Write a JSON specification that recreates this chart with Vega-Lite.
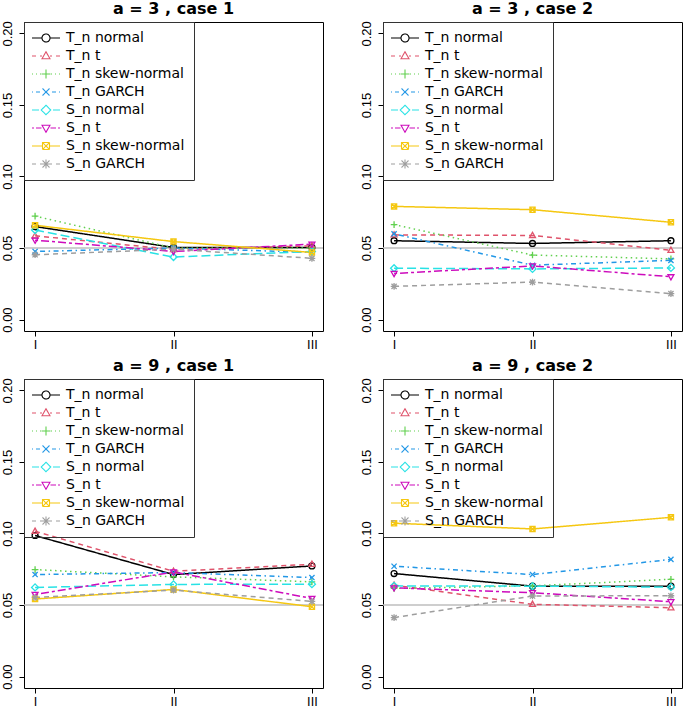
{
 "$schema": "https://vega.github.io/schema/vega-lite/v6.json",
 "padding": {"left": 0, "top": 0, "right": 0, "bottom": 0},
 "background": "white",
 "spacing": 6,
 "config": {
  "font": "DejaVu Sans",
  "view": {"stroke": "black", "strokeWidth": 1},
  "axis": {"title": null, "grid": false, "domain": false, "ticks": true, "tickColor": "black", "tickSize": 5, "tickWidth": 1, "labelColor": "black"},
  "axisX": {"labelFont": "DejaVu Sans", "labelFontSize": 12, "labelPadding": 3},
  "axisY": {"labelFont": "Liberation Sans", "labelFontSize": 13, "labelPadding": 5},
  "title": {"font": "DejaVu Sans", "fontSize": 16, "fontWeight": "bold", "color": "black", "anchor": "middle", "offset": 4},
  "legend": {"orient": "top-left", "offset": 0, "padding": 9, "strokeColor": "#333", "labelFont": "DejaVu Sans", "labelFontSize": 14, "labelColor": "black", "labelLimit": 300, "symbolSize": 100, "symbolStrokeWidth": 1.1, "symbolOffset": 6, "labelOffset": 13, "rowPadding": 4}
 },
 "datasets": {
  "d": [
   {"panel":"p1","series":"T_n normal","x":1,"y":0.065},{"panel":"p1","series":"T_n normal","x":2,"y":0.0504},{"panel":"p1","series":"T_n normal","x":3,"y":0.0504},
   {"panel":"p1","series":"T_n t","x":1,"y":0.0585},{"panel":"p1","series":"T_n t","x":2,"y":0.049},{"panel":"p1","series":"T_n t","x":3,"y":0.0515},
   {"panel":"p1","series":"T_n skew-normal","x":1,"y":0.0723},{"panel":"p1","series":"T_n skew-normal","x":2,"y":0.05},{"panel":"p1","series":"T_n skew-normal","x":3,"y":0.05},
   {"panel":"p1","series":"T_n GARCH","x":1,"y":0.0476},{"panel":"p1","series":"T_n GARCH","x":2,"y":0.05},{"panel":"p1","series":"T_n GARCH","x":3,"y":0.047},
   {"panel":"p1","series":"S_n normal","x":1,"y":0.0626},{"panel":"p1","series":"S_n normal","x":2,"y":0.0437},{"panel":"p1","series":"S_n normal","x":3,"y":0.0476},
   {"panel":"p1","series":"S_n t","x":1,"y":0.0555},{"panel":"p1","series":"S_n t","x":2,"y":0.0476},{"panel":"p1","series":"S_n t","x":3,"y":0.0527},
   {"panel":"p1","series":"S_n skew-normal","x":1,"y":0.0659},{"panel":"p1","series":"S_n skew-normal","x":2,"y":0.0545},{"panel":"p1","series":"S_n skew-normal","x":3,"y":0.0469},
   {"panel":"p1","series":"S_n GARCH","x":1,"y":0.0453},{"panel":"p1","series":"S_n GARCH","x":2,"y":0.0492},{"panel":"p1","series":"S_n GARCH","x":3,"y":0.0428},

   {"panel":"p2","series":"T_n normal","x":1,"y":0.0551},{"panel":"p2","series":"T_n normal","x":2,"y":0.0532},{"panel":"p2","series":"T_n normal","x":3,"y":0.0551},
   {"panel":"p2","series":"T_n t","x":1,"y":0.0592},{"panel":"p2","series":"T_n t","x":2,"y":0.0588},{"panel":"p2","series":"T_n t","x":3,"y":0.0484},
   {"panel":"p2","series":"T_n skew-normal","x":1,"y":0.0664},{"panel":"p2","series":"T_n skew-normal","x":2,"y":0.0451},{"panel":"p2","series":"T_n skew-normal","x":3,"y":0.0424},
   {"panel":"p2","series":"T_n GARCH","x":1,"y":0.0599},{"panel":"p2","series":"T_n GARCH","x":2,"y":0.038},{"panel":"p2","series":"T_n GARCH","x":3,"y":0.0414},
   {"panel":"p2","series":"S_n normal","x":1,"y":0.0359},{"panel":"p2","series":"S_n normal","x":2,"y":0.0354},{"panel":"p2","series":"S_n normal","x":3,"y":0.0361},
   {"panel":"p2","series":"S_n t","x":1,"y":0.0322},{"panel":"p2","series":"S_n t","x":2,"y":0.0375},{"panel":"p2","series":"S_n t","x":3,"y":0.0299},
   {"panel":"p2","series":"S_n skew-normal","x":1,"y":0.0791},{"panel":"p2","series":"S_n skew-normal","x":2,"y":0.0768},{"panel":"p2","series":"S_n skew-normal","x":3,"y":0.068},
   {"panel":"p2","series":"S_n GARCH","x":1,"y":0.0232},{"panel":"p2","series":"S_n GARCH","x":2,"y":0.0262},{"panel":"p2","series":"S_n GARCH","x":3,"y":0.0181},

   {"panel":"p3","series":"T_n normal","x":1,"y":0.0986},{"panel":"p3","series":"T_n normal","x":2,"y":0.0713},{"panel":"p3","series":"T_n normal","x":3,"y":0.0773},
   {"panel":"p3","series":"T_n t","x":1,"y":0.1016},{"panel":"p3","series":"T_n t","x":2,"y":0.0736},{"panel":"p3","series":"T_n t","x":3,"y":0.0785},
   {"panel":"p3","series":"T_n skew-normal","x":1,"y":0.0748},{"panel":"p3","series":"T_n skew-normal","x":2,"y":0.0697},{"panel":"p3","series":"T_n skew-normal","x":3,"y":0.0662},
   {"panel":"p3","series":"T_n GARCH","x":1,"y":0.0713},{"panel":"p3","series":"T_n GARCH","x":2,"y":0.0727},{"panel":"p3","series":"T_n GARCH","x":3,"y":0.0692},
   {"panel":"p3","series":"S_n normal","x":1,"y":0.0623},{"panel":"p3","series":"S_n normal","x":2,"y":0.0644},{"panel":"p3","series":"S_n normal","x":3,"y":0.0646},
   {"panel":"p3","series":"S_n t","x":1,"y":0.0574},{"panel":"p3","series":"S_n t","x":2,"y":0.0731},{"panel":"p3","series":"S_n t","x":3,"y":0.0546},
   {"panel":"p3","series":"S_n skew-normal","x":1,"y":0.0542},{"panel":"p3","series":"S_n skew-normal","x":2,"y":0.0609},{"panel":"p3","series":"S_n skew-normal","x":3,"y":0.0488},
   {"panel":"p3","series":"S_n GARCH","x":1,"y":0.0553},{"panel":"p3","series":"S_n GARCH","x":2,"y":0.0604},{"panel":"p3","series":"S_n GARCH","x":3,"y":0.0525},

   {"panel":"p4","series":"T_n normal","x":1,"y":0.072},{"panel":"p4","series":"T_n normal","x":2,"y":0.0632},{"panel":"p4","series":"T_n normal","x":3,"y":0.0632},
   {"panel":"p4","series":"T_n t","x":1,"y":0.0639},{"panel":"p4","series":"T_n t","x":2,"y":0.0505},{"panel":"p4","series":"T_n t","x":3,"y":0.0481},
   {"panel":"p4","series":"T_n skew-normal","x":1,"y":0.0616},{"panel":"p4","series":"T_n skew-normal","x":2,"y":0.0634},{"panel":"p4","series":"T_n skew-normal","x":3,"y":0.068},
   {"panel":"p4","series":"T_n GARCH","x":1,"y":0.0771},{"panel":"p4","series":"T_n GARCH","x":2,"y":0.0713},{"panel":"p4","series":"T_n GARCH","x":3,"y":0.0819},
   {"panel":"p4","series":"S_n normal","x":1,"y":0.0634},{"panel":"p4","series":"S_n normal","x":2,"y":0.0632},{"panel":"p4","series":"S_n normal","x":3,"y":0.0625},
   {"panel":"p4","series":"S_n t","x":1,"y":0.062},{"panel":"p4","series":"S_n t","x":2,"y":0.0586},{"panel":"p4","series":"S_n t","x":3,"y":0.0523},
   {"panel":"p4","series":"S_n skew-normal","x":1,"y":0.1072},{"panel":"p4","series":"S_n skew-normal","x":2,"y":0.1032},{"panel":"p4","series":"S_n skew-normal","x":3,"y":0.1113},
   {"panel":"p4","series":"S_n GARCH","x":1,"y":0.0412},{"panel":"p4","series":"S_n GARCH","x":2,"y":0.0563},{"panel":"p4","series":"S_n GARCH","x":3,"y":0.0565}
  ]
 },
 "resolve": {"scale": {"color": "independent", "shape": "independent", "strokeDash": "independent"}, "legend": {"color": "independent", "shape": "independent", "strokeDash": "independent"}},
 "vconcat": [
  {
   "spacing": 34,
   "resolve": {"scale": {"color": "independent", "shape": "independent", "strokeDash": "independent"}, "legend": {"color": "independent", "shape": "independent", "strokeDash": "independent"}},
   "hconcat": [
    {
     "title": "a = 3 , case 1", "width": 299, "height": 309,
     "layer": [
      {"data": {"values": [{"ref": 0.05}]}, "mark": {"type": "rule", "color": "#BEBEBE", "strokeWidth": 1.5}, "encoding": {"y": {"field": "ref", "type": "quantitative", "scale": {"domain": [-0.008, 0.208], "nice": false, "zero": false}, "axis": {"values": [0, 0.05, 0.1, 0.15, 0.2], "format": ".2f", "labelAngle": -90}}}},
      {"data": {"name": "d"}, "transform": [{"filter": "datum.panel == 'p1'"}], "mark": {"type": "line", "strokeWidth": 1.5},
       "encoding": {
        "x": {"field": "x", "type": "quantitative", "scale": {"domain": [0.92, 3.08], "nice": false, "zero": false}, "axis": {"values": [1, 2, 3], "labelExpr": "datum.value == 1 ? 'I' : datum.value == 2 ? 'II' : 'III'"}},
        "y": {"field": "y", "type": "quantitative", "scale": {"domain": [-0.008, 0.208], "nice": false, "zero": false}},
        "color": {"field": "series", "type": "nominal", "scale": {"domain": ["T_n normal","T_n t","T_n skew-normal","T_n GARCH","S_n normal","S_n t","S_n skew-normal","S_n GARCH"], "range": ["#000000","#DF536B","#61D04F","#2297E6","#28E2E5","#CD0BBC","#F5C710","#9E9E9E"]},
         "legend": {"title": null, "encode": {"symbols": {"update": {"fill": {"value": "transparent"}, "strokeDash": {"value": [1, 0]}, "shape": {"signal": "['M-2.8,0H-0.8M0.8,0H2.8M0.8,0A0.8,0.8,0,1,1,-0.8,0A0.8,0.8,0,1,1,0.8,0','M-2.8,0H-2M-1.2,0H-0.8M0.8,0H1.2M2,0H2.8M0,-0.85L0.8,0.55L-0.8,0.55Z','M-2.8,0H-2.6M-2,0H-1.8M-1.2,0H-1M1,0H1.2M1.8,0H2M2.6,0H2.8M-0.9,0H0.9M0,-0.9V0.9','M-2.8,0H-2.6M-2,0H-1.2M1.2,0H2M2.6,0H2.8M-0.7,-0.7L0.7,0.7M-0.7,0.7L0.7,-0.7','M-2.8,0H-1.4M1.4,0H2.8M0,-0.95L0.95,0L0,0.95L-0.95,0Z','M-2.8,0H-2.4M-2,0H-0.9M0.9,0H2M2.4,0H2.8M0,0.85L0.8,-0.55L-0.8,-0.55Z','M-2.8,0H-0.7M0.7,0H2.8M-0.7,-0.7H0.7V0.7H-0.7ZM-0.7,-0.7L0.7,0.7M-0.7,0.7L0.7,-0.7','M-2.8,0H-2M-1.2,0H-0.9M0.9,0H1.2M2,0H2.8M-0.9,0H0.9M0,-0.9V0.9M-0.7,-0.7L0.7,0.7M-0.7,0.7L0.7,-0.7'][indexof(['T_n normal','T_n t','T_n skew-normal','T_n GARCH','S_n normal','S_n t','S_n skew-normal','S_n GARCH'], datum.value)]"}}}}}},
        "strokeDash": {"field": "series", "type": "nominal", "scale": {"range": [[5,4],[9,4],[1,0],[3,3,8,3],[1.5,3.5,5,3.5],[1,0],[1.5,3.5],[5,4]]}, "legend": null}
       }},
      {"data": {"name": "d"}, "transform": [{"filter": "datum.panel == 'p1'"}], "mark": {"type": "point", "filled": false, "size": 55, "strokeWidth": 1.3, "opacity": 1},
       "encoding": {
        "x": {"field": "x", "type": "quantitative", "scale": {"domain": [0.92, 3.08], "nice": false, "zero": false}},
        "y": {"field": "y", "type": "quantitative", "scale": {"domain": [-0.008, 0.208], "nice": false, "zero": false}},
        "color": {"field": "series", "type": "nominal", "scale": {"domain": ["T_n normal","T_n t","T_n skew-normal","T_n GARCH","S_n normal","S_n t","S_n skew-normal","S_n GARCH"], "range": ["#000000","#DF536B","#61D04F","#2297E6","#28E2E5","#CD0BBC","#F5C710","#9E9E9E"]}},
        "shape": {"field": "series", "type": "nominal", "scale": {"range": ["M-0.9,0H0.9M0,-0.9V0.9M-0.7,-0.7L0.7,0.7M-0.7,0.7L0.7,-0.7","M0,-0.95L0.95,0L0,0.95L-0.95,0Z","M-0.7,-0.7H0.7V0.7H-0.7ZM-0.7,-0.7L0.7,0.7M-0.7,0.7L0.7,-0.7","M0,0.85L0.8,-0.55L-0.8,-0.55Z","M-0.7,-0.7L0.7,0.7M-0.7,0.7L0.7,-0.7","M0.8,0A0.8,0.8,0,1,1,-0.8,0A0.8,0.8,0,1,1,0.8,0Z","M-0.9,0H0.9M0,-0.9V0.9","M0,-0.85L0.8,0.55L-0.8,0.55Z"]}, "legend": null}
       }}
     ]
    },
    {
     "title": "a = 3 , case 2", "width": 299, "height": 309,
     "layer": [
      {"data": {"values": [{"ref": 0.05}]}, "mark": {"type": "rule", "color": "#BEBEBE", "strokeWidth": 1.5}, "encoding": {"y": {"field": "ref", "type": "quantitative", "scale": {"domain": [-0.008, 0.208], "nice": false, "zero": false}, "axis": {"values": [0, 0.05, 0.1, 0.15, 0.2], "format": ".2f", "labelAngle": -90}}}},
      {"data": {"name": "d"}, "transform": [{"filter": "datum.panel == 'p2'"}], "mark": {"type": "line", "strokeWidth": 1.5},
       "encoding": {
        "x": {"field": "x", "type": "quantitative", "scale": {"domain": [0.92, 3.08], "nice": false, "zero": false}, "axis": {"values": [1, 2, 3], "labelExpr": "datum.value == 1 ? 'I' : datum.value == 2 ? 'II' : 'III'"}},
        "y": {"field": "y", "type": "quantitative", "scale": {"domain": [-0.008, 0.208], "nice": false, "zero": false}},
        "color": {"field": "series", "type": "nominal", "scale": {"domain": ["T_n normal","T_n t","T_n skew-normal","T_n GARCH","S_n normal","S_n t","S_n skew-normal","S_n GARCH"], "range": ["#000000","#DF536B","#61D04F","#2297E6","#28E2E5","#CD0BBC","#F5C710","#9E9E9E"]},
         "legend": {"title": null, "encode": {"symbols": {"update": {"fill": {"value": "transparent"}, "strokeDash": {"value": [1, 0]}, "shape": {"signal": "['M-2.8,0H-0.8M0.8,0H2.8M0.8,0A0.8,0.8,0,1,1,-0.8,0A0.8,0.8,0,1,1,0.8,0','M-2.8,0H-2M-1.2,0H-0.8M0.8,0H1.2M2,0H2.8M0,-0.85L0.8,0.55L-0.8,0.55Z','M-2.8,0H-2.6M-2,0H-1.8M-1.2,0H-1M1,0H1.2M1.8,0H2M2.6,0H2.8M-0.9,0H0.9M0,-0.9V0.9','M-2.8,0H-2.6M-2,0H-1.2M1.2,0H2M2.6,0H2.8M-0.7,-0.7L0.7,0.7M-0.7,0.7L0.7,-0.7','M-2.8,0H-1.4M1.4,0H2.8M0,-0.95L0.95,0L0,0.95L-0.95,0Z','M-2.8,0H-2.4M-2,0H-0.9M0.9,0H2M2.4,0H2.8M0,0.85L0.8,-0.55L-0.8,-0.55Z','M-2.8,0H-0.7M0.7,0H2.8M-0.7,-0.7H0.7V0.7H-0.7ZM-0.7,-0.7L0.7,0.7M-0.7,0.7L0.7,-0.7','M-2.8,0H-2M-1.2,0H-0.9M0.9,0H1.2M2,0H2.8M-0.9,0H0.9M0,-0.9V0.9M-0.7,-0.7L0.7,0.7M-0.7,0.7L0.7,-0.7'][indexof(['T_n normal','T_n t','T_n skew-normal','T_n GARCH','S_n normal','S_n t','S_n skew-normal','S_n GARCH'], datum.value)]"}}}}}},
        "strokeDash": {"field": "series", "type": "nominal", "scale": {"range": [[5,4],[9,4],[1,0],[3,3,8,3],[1.5,3.5,5,3.5],[1,0],[1.5,3.5],[5,4]]}, "legend": null}
       }},
      {"data": {"name": "d"}, "transform": [{"filter": "datum.panel == 'p2'"}], "mark": {"type": "point", "filled": false, "size": 55, "strokeWidth": 1.3, "opacity": 1},
       "encoding": {
        "x": {"field": "x", "type": "quantitative", "scale": {"domain": [0.92, 3.08], "nice": false, "zero": false}},
        "y": {"field": "y", "type": "quantitative", "scale": {"domain": [-0.008, 0.208], "nice": false, "zero": false}},
        "color": {"field": "series", "type": "nominal", "scale": {"domain": ["T_n normal","T_n t","T_n skew-normal","T_n GARCH","S_n normal","S_n t","S_n skew-normal","S_n GARCH"], "range": ["#000000","#DF536B","#61D04F","#2297E6","#28E2E5","#CD0BBC","#F5C710","#9E9E9E"]}},
        "shape": {"field": "series", "type": "nominal", "scale": {"range": ["M-0.9,0H0.9M0,-0.9V0.9M-0.7,-0.7L0.7,0.7M-0.7,0.7L0.7,-0.7","M0,-0.95L0.95,0L0,0.95L-0.95,0Z","M-0.7,-0.7H0.7V0.7H-0.7ZM-0.7,-0.7L0.7,0.7M-0.7,0.7L0.7,-0.7","M0,0.85L0.8,-0.55L-0.8,-0.55Z","M-0.7,-0.7L0.7,0.7M-0.7,0.7L0.7,-0.7","M0.8,0A0.8,0.8,0,1,1,-0.8,0A0.8,0.8,0,1,1,0.8,0Z","M-0.9,0H0.9M0,-0.9V0.9","M0,-0.85L0.8,0.55L-0.8,0.55Z"]}, "legend": null}
       }}
     ]
    }
   ]
  },
  {
   "spacing": 34,
   "resolve": {"scale": {"color": "independent", "shape": "independent", "strokeDash": "independent"}, "legend": {"color": "independent", "shape": "independent", "strokeDash": "independent"}},
   "hconcat": [
    {
     "title": "a = 9 , case 1", "width": 299, "height": 309,
     "layer": [
      {"data": {"values": [{"ref": 0.05}]}, "mark": {"type": "rule", "color": "#BEBEBE", "strokeWidth": 1.5}, "encoding": {"y": {"field": "ref", "type": "quantitative", "scale": {"domain": [-0.008, 0.208], "nice": false, "zero": false}, "axis": {"values": [0, 0.05, 0.1, 0.15, 0.2], "format": ".2f", "labelAngle": -90}}}},
      {"data": {"name": "d"}, "transform": [{"filter": "datum.panel == 'p3'"}], "mark": {"type": "line", "strokeWidth": 1.5},
       "encoding": {
        "x": {"field": "x", "type": "quantitative", "scale": {"domain": [0.92, 3.08], "nice": false, "zero": false}, "axis": {"values": [1, 2, 3], "labelExpr": "datum.value == 1 ? 'I' : datum.value == 2 ? 'II' : 'III'"}},
        "y": {"field": "y", "type": "quantitative", "scale": {"domain": [-0.008, 0.208], "nice": false, "zero": false}},
        "color": {"field": "series", "type": "nominal", "scale": {"domain": ["T_n normal","T_n t","T_n skew-normal","T_n GARCH","S_n normal","S_n t","S_n skew-normal","S_n GARCH"], "range": ["#000000","#DF536B","#61D04F","#2297E6","#28E2E5","#CD0BBC","#F5C710","#9E9E9E"]},
         "legend": {"title": null, "encode": {"symbols": {"update": {"fill": {"value": "transparent"}, "strokeDash": {"value": [1, 0]}, "shape": {"signal": "['M-2.8,0H-0.8M0.8,0H2.8M0.8,0A0.8,0.8,0,1,1,-0.8,0A0.8,0.8,0,1,1,0.8,0','M-2.8,0H-2M-1.2,0H-0.8M0.8,0H1.2M2,0H2.8M0,-0.85L0.8,0.55L-0.8,0.55Z','M-2.8,0H-2.6M-2,0H-1.8M-1.2,0H-1M1,0H1.2M1.8,0H2M2.6,0H2.8M-0.9,0H0.9M0,-0.9V0.9','M-2.8,0H-2.6M-2,0H-1.2M1.2,0H2M2.6,0H2.8M-0.7,-0.7L0.7,0.7M-0.7,0.7L0.7,-0.7','M-2.8,0H-1.4M1.4,0H2.8M0,-0.95L0.95,0L0,0.95L-0.95,0Z','M-2.8,0H-2.4M-2,0H-0.9M0.9,0H2M2.4,0H2.8M0,0.85L0.8,-0.55L-0.8,-0.55Z','M-2.8,0H-0.7M0.7,0H2.8M-0.7,-0.7H0.7V0.7H-0.7ZM-0.7,-0.7L0.7,0.7M-0.7,0.7L0.7,-0.7','M-2.8,0H-2M-1.2,0H-0.9M0.9,0H1.2M2,0H2.8M-0.9,0H0.9M0,-0.9V0.9M-0.7,-0.7L0.7,0.7M-0.7,0.7L0.7,-0.7'][indexof(['T_n normal','T_n t','T_n skew-normal','T_n GARCH','S_n normal','S_n t','S_n skew-normal','S_n GARCH'], datum.value)]"}}}}}},
        "strokeDash": {"field": "series", "type": "nominal", "scale": {"range": [[5,4],[9,4],[1,0],[3,3,8,3],[1.5,3.5,5,3.5],[1,0],[1.5,3.5],[5,4]]}, "legend": null}
       }},
      {"data": {"name": "d"}, "transform": [{"filter": "datum.panel == 'p3'"}], "mark": {"type": "point", "filled": false, "size": 55, "strokeWidth": 1.3, "opacity": 1},
       "encoding": {
        "x": {"field": "x", "type": "quantitative", "scale": {"domain": [0.92, 3.08], "nice": false, "zero": false}},
        "y": {"field": "y", "type": "quantitative", "scale": {"domain": [-0.008, 0.208], "nice": false, "zero": false}},
        "color": {"field": "series", "type": "nominal", "scale": {"domain": ["T_n normal","T_n t","T_n skew-normal","T_n GARCH","S_n normal","S_n t","S_n skew-normal","S_n GARCH"], "range": ["#000000","#DF536B","#61D04F","#2297E6","#28E2E5","#CD0BBC","#F5C710","#9E9E9E"]}},
        "shape": {"field": "series", "type": "nominal", "scale": {"range": ["M-0.9,0H0.9M0,-0.9V0.9M-0.7,-0.7L0.7,0.7M-0.7,0.7L0.7,-0.7","M0,-0.95L0.95,0L0,0.95L-0.95,0Z","M-0.7,-0.7H0.7V0.7H-0.7ZM-0.7,-0.7L0.7,0.7M-0.7,0.7L0.7,-0.7","M0,0.85L0.8,-0.55L-0.8,-0.55Z","M-0.7,-0.7L0.7,0.7M-0.7,0.7L0.7,-0.7","M0.8,0A0.8,0.8,0,1,1,-0.8,0A0.8,0.8,0,1,1,0.8,0Z","M-0.9,0H0.9M0,-0.9V0.9","M0,-0.85L0.8,0.55L-0.8,0.55Z"]}, "legend": null}
       }}
     ]
    },
    {
     "title": "a = 9 , case 2", "width": 299, "height": 309,
     "layer": [
      {"data": {"values": [{"ref": 0.05}]}, "mark": {"type": "rule", "color": "#BEBEBE", "strokeWidth": 1.5}, "encoding": {"y": {"field": "ref", "type": "quantitative", "scale": {"domain": [-0.008, 0.208], "nice": false, "zero": false}, "axis": {"values": [0, 0.05, 0.1, 0.15, 0.2], "format": ".2f", "labelAngle": -90}}}},
      {"data": {"name": "d"}, "transform": [{"filter": "datum.panel == 'p4'"}], "mark": {"type": "line", "strokeWidth": 1.5},
       "encoding": {
        "x": {"field": "x", "type": "quantitative", "scale": {"domain": [0.92, 3.08], "nice": false, "zero": false}, "axis": {"values": [1, 2, 3], "labelExpr": "datum.value == 1 ? 'I' : datum.value == 2 ? 'II' : 'III'"}},
        "y": {"field": "y", "type": "quantitative", "scale": {"domain": [-0.008, 0.208], "nice": false, "zero": false}},
        "color": {"field": "series", "type": "nominal", "scale": {"domain": ["T_n normal","T_n t","T_n skew-normal","T_n GARCH","S_n normal","S_n t","S_n skew-normal","S_n GARCH"], "range": ["#000000","#DF536B","#61D04F","#2297E6","#28E2E5","#CD0BBC","#F5C710","#9E9E9E"]},
         "legend": {"title": null, "encode": {"symbols": {"update": {"fill": {"value": "transparent"}, "strokeDash": {"value": [1, 0]}, "shape": {"signal": "['M-2.8,0H-0.8M0.8,0H2.8M0.8,0A0.8,0.8,0,1,1,-0.8,0A0.8,0.8,0,1,1,0.8,0','M-2.8,0H-2M-1.2,0H-0.8M0.8,0H1.2M2,0H2.8M0,-0.85L0.8,0.55L-0.8,0.55Z','M-2.8,0H-2.6M-2,0H-1.8M-1.2,0H-1M1,0H1.2M1.8,0H2M2.6,0H2.8M-0.9,0H0.9M0,-0.9V0.9','M-2.8,0H-2.6M-2,0H-1.2M1.2,0H2M2.6,0H2.8M-0.7,-0.7L0.7,0.7M-0.7,0.7L0.7,-0.7','M-2.8,0H-1.4M1.4,0H2.8M0,-0.95L0.95,0L0,0.95L-0.95,0Z','M-2.8,0H-2.4M-2,0H-0.9M0.9,0H2M2.4,0H2.8M0,0.85L0.8,-0.55L-0.8,-0.55Z','M-2.8,0H-0.7M0.7,0H2.8M-0.7,-0.7H0.7V0.7H-0.7ZM-0.7,-0.7L0.7,0.7M-0.7,0.7L0.7,-0.7','M-2.8,0H-2M-1.2,0H-0.9M0.9,0H1.2M2,0H2.8M-0.9,0H0.9M0,-0.9V0.9M-0.7,-0.7L0.7,0.7M-0.7,0.7L0.7,-0.7'][indexof(['T_n normal','T_n t','T_n skew-normal','T_n GARCH','S_n normal','S_n t','S_n skew-normal','S_n GARCH'], datum.value)]"}}}}}},
        "strokeDash": {"field": "series", "type": "nominal", "scale": {"range": [[5,4],[9,4],[1,0],[3,3,8,3],[1.5,3.5,5,3.5],[1,0],[1.5,3.5],[5,4]]}, "legend": null}
       }},
      {"data": {"name": "d"}, "transform": [{"filter": "datum.panel == 'p4'"}], "mark": {"type": "point", "filled": false, "size": 55, "strokeWidth": 1.3, "opacity": 1},
       "encoding": {
        "x": {"field": "x", "type": "quantitative", "scale": {"domain": [0.92, 3.08], "nice": false, "zero": false}},
        "y": {"field": "y", "type": "quantitative", "scale": {"domain": [-0.008, 0.208], "nice": false, "zero": false}},
        "color": {"field": "series", "type": "nominal", "scale": {"domain": ["T_n normal","T_n t","T_n skew-normal","T_n GARCH","S_n normal","S_n t","S_n skew-normal","S_n GARCH"], "range": ["#000000","#DF536B","#61D04F","#2297E6","#28E2E5","#CD0BBC","#F5C710","#9E9E9E"]}},
        "shape": {"field": "series", "type": "nominal", "scale": {"range": ["M-0.9,0H0.9M0,-0.9V0.9M-0.7,-0.7L0.7,0.7M-0.7,0.7L0.7,-0.7","M0,-0.95L0.95,0L0,0.95L-0.95,0Z","M-0.7,-0.7H0.7V0.7H-0.7ZM-0.7,-0.7L0.7,0.7M-0.7,0.7L0.7,-0.7","M0,0.85L0.8,-0.55L-0.8,-0.55Z","M-0.7,-0.7L0.7,0.7M-0.7,0.7L0.7,-0.7","M0.8,0A0.8,0.8,0,1,1,-0.8,0A0.8,0.8,0,1,1,0.8,0Z","M-0.9,0H0.9M0,-0.9V0.9","M0,-0.85L0.8,0.55L-0.8,0.55Z"]}, "legend": null}
       }}
     ]
    }
   ]
  }
 ]
}
